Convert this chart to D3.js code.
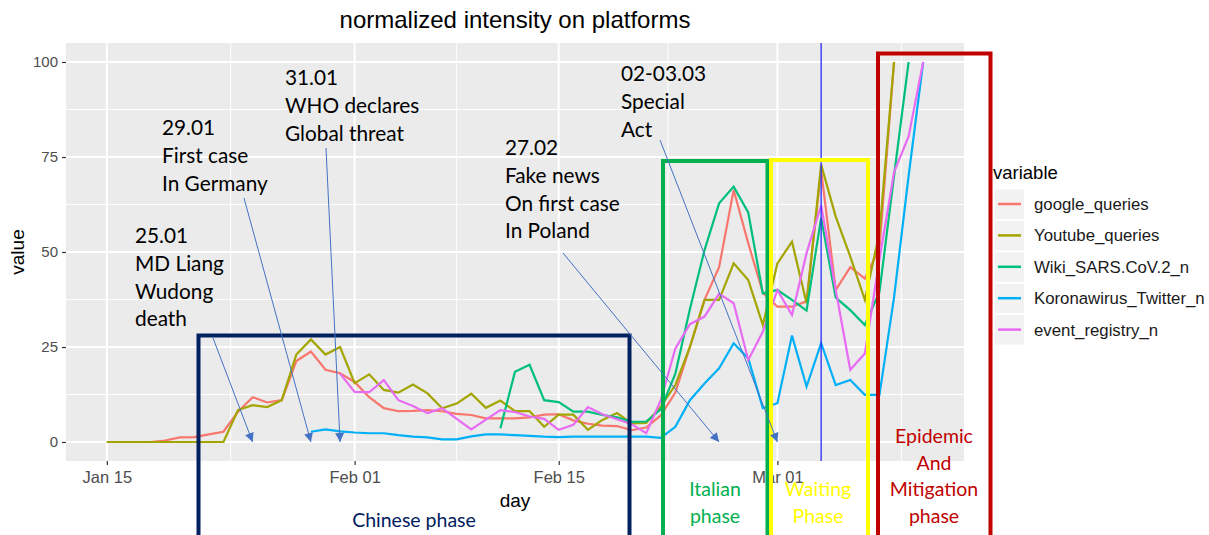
<!DOCTYPE html>
<html>
<head>
<meta charset="utf-8">
<script src="https://cdn.jsdelivr.net/npm/d3@7"></script>
<style>
body { margin: 0; background: #fff; }
svg { display: block; }
</style>
</head>
<body>
<svg id="chart" width="1209" height="535"></svg>
<script>
// days on the x axis
var days = [
    "2020-01-15", "2020-01-16", "2020-01-17", "2020-01-18", "2020-01-19", "2020-01-20", "2020-01-21", "2020-01-22",
    "2020-01-23", "2020-01-24", "2020-01-25", "2020-01-26", "2020-01-27", "2020-01-28", "2020-01-29", "2020-01-30",
    "2020-01-31", "2020-02-01", "2020-02-02", "2020-02-03", "2020-02-04", "2020-02-05", "2020-02-06", "2020-02-07",
    "2020-02-08", "2020-02-09", "2020-02-10", "2020-02-11", "2020-02-12", "2020-02-13", "2020-02-14", "2020-02-15",
    "2020-02-16", "2020-02-17", "2020-02-18", "2020-02-19", "2020-02-20", "2020-02-21", "2020-02-22", "2020-02-23",
    "2020-02-24", "2020-02-25", "2020-02-26", "2020-02-27", "2020-02-28", "2020-02-29", "2020-03-01", "2020-03-02",
    "2020-03-03", "2020-03-04", "2020-03-05", "2020-03-06", "2020-03-07", "2020-03-08", "2020-03-09", "2020-03-10",
    "2020-03-11"
];

// series values (null = no data that day)
var google_queries = [
    0, 0, 0, 0, 0.4, 1.2, 1.3, 2, 2.7, 8, 11.8, 10.4, 11, 21.3, 23.8, 19,
    18.1, 15.8, 11.8, 8.9, 8.1, 8.2, 8.4, 8.1, 7.4, 7.1, 6.2, 6.2, 6.2, 6.5, 7.2, 7.3,
    5.7, 4.8, 4.3, 4.2, 3.1, 3.8, 7, 13, 25, 37.4, 46, 66.3, 52.3, 39.3, 35.6, 35.6,
    37, 71.5, 40, 46, 43, 51, 100, null, null
];
var Youtube_queries = [
    0, 0, 0, 0, 0, 0, 0, 0, 0, 8.4, 9.7, 9.2, 11, 23, 27, 23,
    25, 15.5, 17.8, 13.7, 13, 15.1, 12.8, 8.9, 10.1, 12.7, 9, 10.9, 8.1, 8.1, 4, 7.2,
    7.2, 3.2, 5.8, 7.6, 4.9, 5, 9.3, 15, 25, 37.4, 37.4, 47, 42.6, 30.8, 47, 52.7,
    36.5, 73, 59.3, 48.8, 37.4, 55, 100, null, null
];
var Wiki_SARS_CoV_2_n = [
    null, null, null, null, null, null, null, null, null, null, null, null, null, null, null, null,
    null, null, null, null, null, null, null, null, null, null, null, 3.6, 18.5, 20.3, 11, 10.5,
    8, 8, 7.1, 6.5, 5.3, 5.4, 8.6, 18, 35, 50.5, 62.8, 67.2, 60.4, 39.1, 40, 37.4,
    34.6, 59, 38, 34.7, 30.8, 39.5, 70, 100, null
];
var Koronawirus_Twitter_n = [
    null, null, null, null, null, null, null, null, null, null, null, null, null, null, 2.7, 3.3,
    2.8, 2.5, 2.3, 2.3, 1.8, 1.4, 1.2, 0.7, 0.7, 1.5, 2, 2, 1.8, 1.6, 1.4, 1.3,
    1.4, 1.4, 1.4, 1.4, 1.4, 1.4, 1.1, 4, 11, 15.4, 19.4, 26, 22, 8.9, 10.2, 28,
    14.6, 26, 15, 16.3, 12.4, 12.4, 38, 70, 100
];
var event_registry_n = [
    null, null, null, null, null, null, null, null, null, null, null, null, null, null, null, null,
    18, 13.2, 13.1, 16.3, 11, 9.5, 7.6, 8.9, 6.1, 3.3, 5.9, 8.4, 7.9, 6.7, 6.1, 3.2,
    4.5, 9.2, 7.3, 6, 4.7, 2.3, 11, 24.6, 31, 33, 39, 36.5, 21.6, 29, 40, 33.4,
    49.7, 62.3, 40, 19, 23.3, 48, 71, 80.4, 100
];

var seriesNames = ["google_queries", "Youtube_queries", "Wiki_SARS.CoV.2_n", "Koronawirus_Twitter_n", "event_registry_n"];
var seriesValues = [google_queries, Youtube_queries, Wiki_SARS_CoV_2_n, Koronawirus_Twitter_n, event_registry_n];
var seriesColors = ["#F8766D", "#A3A500", "#00BF7D", "#00B0F6", "#E76BF3"];

// axis ticks
var xTicks = ["2020-01-15", "2020-02-01", "2020-02-15", "2020-03-01"];
var xMinor = ["2020-01-23 12", "2020-02-08 00", "2020-02-22 12", "2020-03-09 12"];
var yTicks = [0, 25, 50, 75, 100];
var yMinor = [12.5, 37.5, 62.5, 87.5];
var markerDay = "2020-03-04";

var parse = d3.timeParse("%Y-%m-%d");
var parseHour = d3.timeParse("%Y-%m-%d %H");
var dates = days.map(parse);

// panel box
var panel = { left: 66, right: 964, top: 43, bottom: 461 };
var pad = 2.8 * 864e5;

var x = d3.scaleTime()
    .domain([new Date(+dates[0] - pad), new Date(+dates[dates.length - 1] + pad)])
    .range([panel.left, panel.right]);
var y = d3.scaleLinear().domain([-5, 105]).range([panel.bottom, panel.top]);

var svg = d3.select("#chart");

svg.append("rect")
    .attr("x", panel.left).attr("y", panel.top)
    .attr("width", panel.right - panel.left).attr("height", panel.bottom - panel.top)
    .attr("fill", "#EBEBEB");

// grid
var grid = svg.append("g");
grid.selectAll("line.ymin").data(yMinor).enter().append("line")
    .attr("x1", panel.left).attr("x2", panel.right)
    .attr("y1", d => y(d)).attr("y2", d => y(d))
    .attr("stroke", "#fff").attr("stroke-width", 1);
grid.selectAll("line.xmin").data(xMinor.map(parseHour)).enter().append("line")
    .attr("y1", panel.top).attr("y2", panel.bottom)
    .attr("x1", d => x(d)).attr("x2", d => x(d))
    .attr("stroke", "#fff").attr("stroke-width", 1);
grid.selectAll("line.ymaj").data(yTicks).enter().append("line")
    .attr("x1", panel.left).attr("x2", panel.right)
    .attr("y1", d => y(d)).attr("y2", d => y(d))
    .attr("stroke", "#fff").attr("stroke-width", 2);
grid.selectAll("line.xmaj").data(xTicks.map(parse)).enter().append("line")
    .attr("y1", panel.top).attr("y2", panel.bottom)
    .attr("x1", d => x(d)).attr("x2", d => x(d))
    .attr("stroke", "#fff").attr("stroke-width", 2);

// axes
var sans = "'Liberation Sans', Arial, sans-serif";
var xAxis = svg.append("g")
    .attr("transform", "translate(0," + panel.bottom + ")")
    .call(d3.axisBottom(x).tickValues(xTicks.map(parse)).tickFormat(d3.timeFormat("%b %d")).tickSize(4).tickPadding(6));
var yAxis = svg.append("g")
    .attr("transform", "translate(" + panel.left + ",0)")
    .call(d3.axisLeft(y).tickValues(yTicks).tickSize(4).tickPadding(4));
[xAxis, yAxis].forEach(function (g) {
    g.select(".domain").remove();
    g.selectAll(".tick line").attr("stroke", "#333").attr("stroke-width", 1.2);
    g.selectAll(".tick text")
        .attr("fill", "#4D4D4D")
        .style("font-family", sans);
});
xAxis.selectAll(".tick text").style("font-size", "16.5px");
yAxis.selectAll(".tick text").style("font-size", "15px");

// lines
var line = d3.line()
    .defined(d => d.v !== null)
    .x(d => x(d.date))
    .y(d => y(d.v));

seriesValues.forEach(function (vals, i) {
    var data = vals.map((v, j) => ({ date: dates[j], v: v }));
    svg.append("path")
        .datum(data)
        .attr("d", line)
        .attr("fill", "none")
        .attr("stroke", seriesColors[i])
        .attr("stroke-width", 2.2);
});

// marker line
svg.append("line")
    .attr("x1", x(parse(markerDay))).attr("x2", x(parse(markerDay)))
    .attr("y1", panel.top).attr("y2", panel.bottom)
    .attr("stroke", "#2B2BFF").attr("stroke-width", 1.3);

// titles
svg.append("text")
    .text("normalized intensity on platforms")
    .attr("x", (panel.left + panel.right) / 2).attr("y", 28)
    .attr("text-anchor", "middle")
    .style("font-family", sans).style("font-size", "24px");
svg.append("text")
    .text("day")
    .attr("x", (panel.left + panel.right) / 2).attr("y", 507)
    .attr("text-anchor", "middle")
    .style("font-family", sans).style("font-size", "19px");
svg.append("text")
    .text("value")
    .attr("transform", "translate(24," + ((panel.top + panel.bottom) / 2) + ") rotate(-90)")
    .attr("text-anchor", "middle")
    .style("font-family", sans).style("font-size", "19px");

// legend
var legend = svg.append("g").attr("transform", "translate(993,0)");
legend.append("text")
    .text("variable")
    .attr("x", 0).attr("y", 179)
    .style("font-family", sans).style("font-size", "18.5px");
seriesNames.forEach(function (name, i) {
    var cy = 204 + i * 31.4;
    legend.append("rect")
        .attr("x", 2).attr("y", cy - 14.5)
        .attr("width", 29).attr("height", 29.5)
        .attr("fill", "#F2F2F2");
    legend.append("line")
        .attr("x1", 5).attr("x2", 28)
        .attr("y1", cy).attr("y2", cy)
        .attr("stroke", seriesColors[i]).attr("stroke-width", 2.5);
    legend.append("text")
        .text(name)
        .attr("x", 41).attr("y", cy + 6)
        .attr("fill", "#1A1A1A")
        .style("font-family", sans).style("font-size", "16.8px");
});

// phase boxes drawn over the plot
var phases = [
    { x0: 198.5, x1: 629.5, y0: 335.5, color: "#002060", label: ["Chinese phase"], lx: 414, ly: 527 },
    { x0: 663, x1: 767.5, y0: 161, color: "#00B050", label: ["Italian", "phase"], lx: 715, ly: 496 },
    { x0: 771, x1: 868, y0: 160, color: "#FFFF00", label: ["Waiting", "Phase"], lx: 818, ly: 496 },
    { x0: 878, x1: 990.5, y0: 53.5, color: "#C00000", label: ["Epidemic", "And", "Mitigation", "phase"], lx: 934, ly: 443 }
];
var callout = "Lato, 'Noto Sans', sans-serif";
phases.forEach(function (p) {
    svg.append("path")
        .attr("d", "M" + p.x0 + ",545 V" + p.y0 + " H" + p.x1 + " V545")
        .attr("fill", "none")
        .attr("stroke", p.color)
        .attr("stroke-width", 4);
    p.label.forEach(function (t, k) {
        svg.append("text")
            .text(t)
            .attr("x", p.lx).attr("y", p.ly + k * 26.5)
            .attr("text-anchor", "middle")
            .attr("fill", p.color)
            .style("font-family", callout).style("font-size", "19.5px");
    });
});

// event callouts with arrows
var events = [
    { lines: ["25.01", "MD Liang", "Wudong", "death"], tx: 135, ty: 243, from: [213, 338], to: "2020-01-25" },
    { lines: ["29.01", "First case", "In Germany"], tx: 162, ty: 135, from: [244, 198], to: "2020-01-29" },
    { lines: ["31.01", "WHO declares", "Global threat"], tx: 285, ty: 85, from: [326, 148], to: "2020-01-31" },
    { lines: ["27.02", "Fake news", "On first case", "In Poland"], tx: 505, ty: 155, from: [563, 253], to: "2020-02-26" },
    { lines: ["02-03.03", "Special", "Act"], tx: 621, ty: 81, from: [660, 140], to: "2020-03-01" }
];

svg.append("defs").append("marker")
    .attr("id", "head")
    .attr("viewBox", "0 0 10 10")
    .attr("refX", 10).attr("refY", 5)
    .attr("markerUnits", "userSpaceOnUse")
    .attr("markerWidth", 10).attr("markerHeight", 9)
    .attr("orient", "auto")
    .append("path")
    .attr("d", "M0,0 L10,5 L0,10 z")
    .attr("fill", "#4472C4");

events.forEach(function (e) {
    e.lines.forEach(function (t, k) {
        svg.append("text")
            .text(t)
            .attr("x", e.tx).attr("y", e.ty + k * 27.8)
            .attr("fill", "#000")
            .style("font-family", callout).style("font-size", "20.8px");
    });
    svg.append("line")
        .attr("x1", e.from[0]).attr("y1", e.from[1])
        .attr("x2", x(parse(e.to))).attr("y2", y(0))
        .attr("stroke", "#4472C4").attr("stroke-width", 1)
        .attr("marker-end", "url(#head)");
});
</script>
</body>
</html>
